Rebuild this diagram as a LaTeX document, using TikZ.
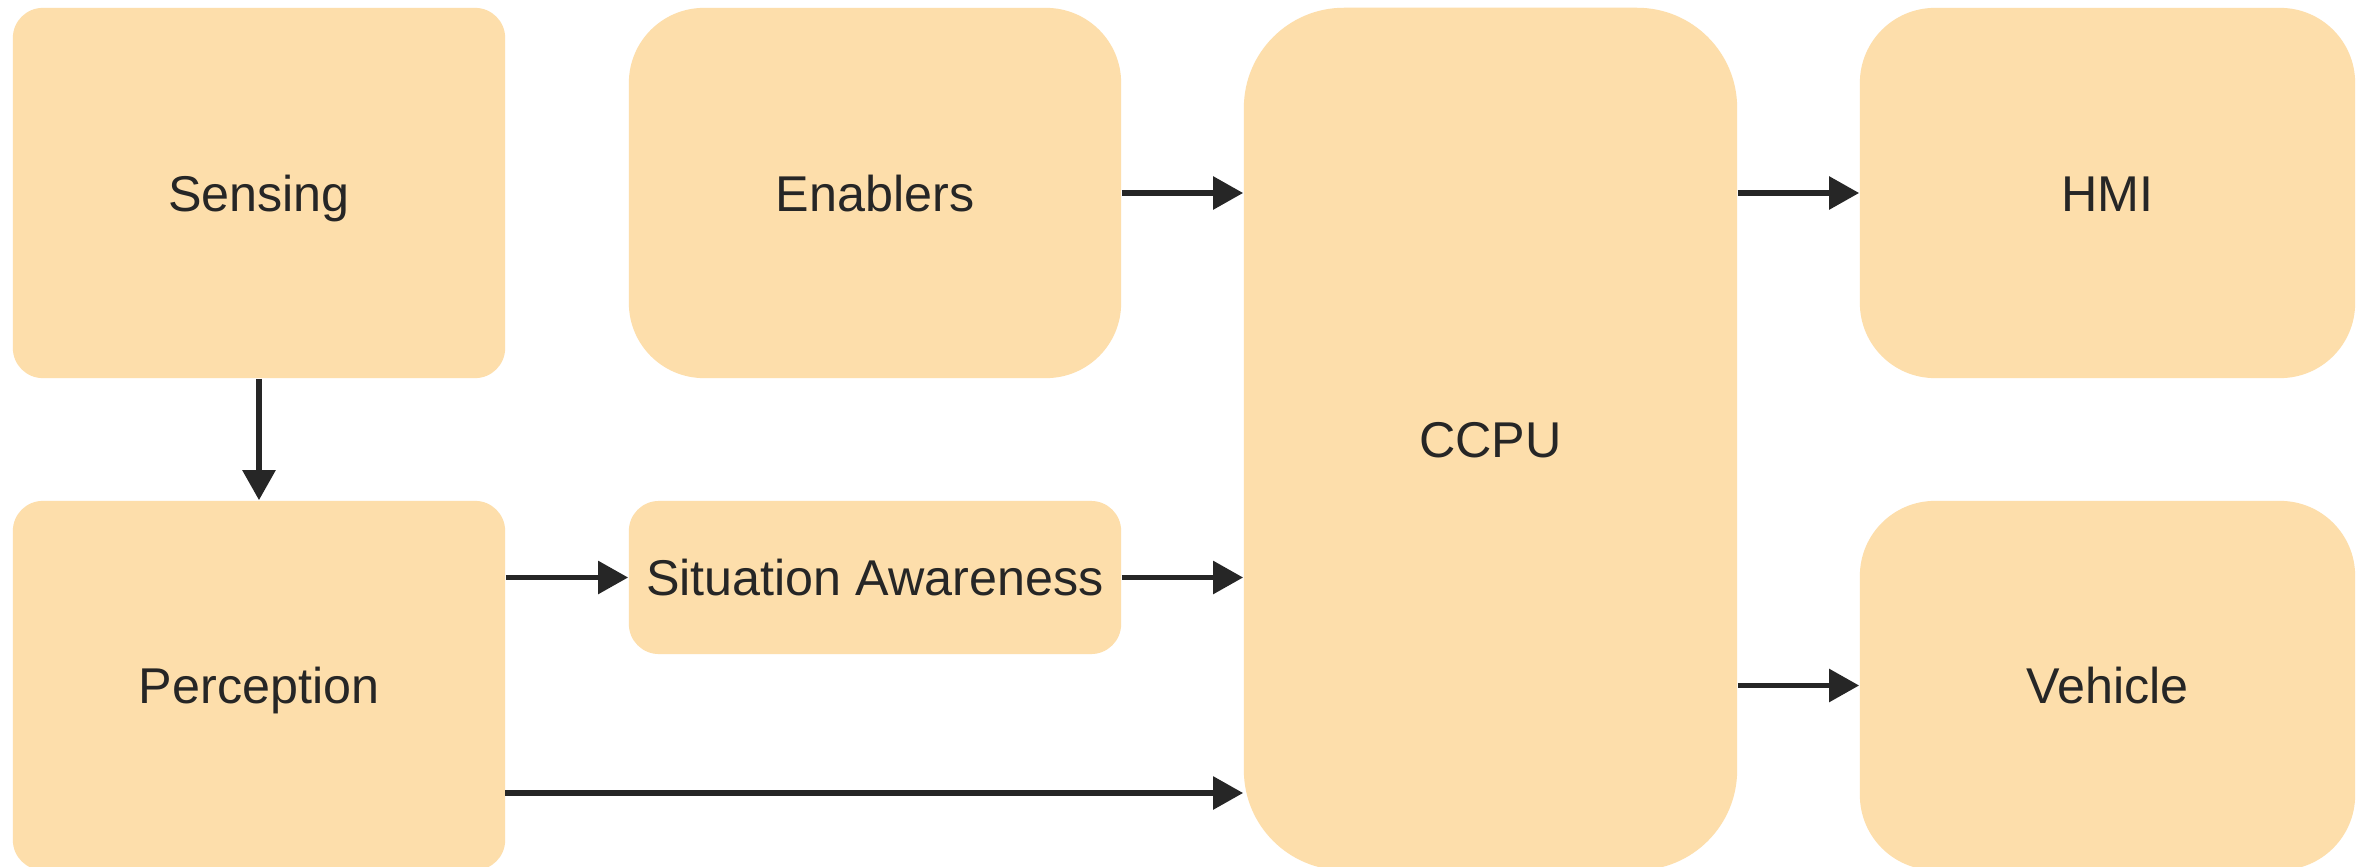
\documentclass[tikz,border=0pt]{standalone}
\usepackage{fontspec}
\setmainfont{Liberation Sans}
\usetikzlibrary{arrows.meta}
\definecolor{boxfill}{RGB}{253,222,171}
\definecolor{ink}{RGB}{38,38,38}
\tikzset{
  blockbox/.style={rectangle, fill=boxfill, draw=none, inner sep=0pt, text=ink,
    text height=0.36cm, text depth=0cm,
    font=\fontsize{14.3}{17}\selectfont},
  smallr/.style={rounded corners=0.3cm},
  bigr/.style={rounded corners=0.75cm},
  hugr/.style={rounded corners=1.0cm},
  flow/.style={draw=ink, line width=1.6pt, -{Triangle[length=0.3cm,width=0.32cm]}}
}
\begin{document}
\begin{tikzpicture}[x=0.01cm, y=-0.01cm]
\useasboundingbox (0,0) rectangle (2357,867);
\clip (0,0) rectangle (2357,867);
\fill[white] (0,0) rectangle (2357,867);
\node[blockbox, smallr, minimum width=4.92cm, minimum height=3.70cm] (sens) at (259,193) {Sensing};
\node[blockbox, smallr, minimum width=4.92cm, minimum height=3.69cm] (perc) at (259,685.5) {Perception};
\node[blockbox, bigr, minimum width=4.92cm, minimum height=3.70cm] (enab) at (875,193) {Enablers};
\node[blockbox, smallr, minimum width=4.92cm, minimum height=1.53cm] (sa) at (875,577.5) {Situation Awareness};
\node[blockbox, hugr, minimum width=4.93cm, minimum height=8.62cm] (ccpu) at (1490.5,439) {CCPU};
\node[blockbox, bigr, minimum width=4.95cm, minimum height=3.70cm] (hmi) at (2107.5,193) {HMI};
\node[blockbox, bigr, minimum width=4.95cm, minimum height=3.69cm] (veh) at (2107.5,685.5) {Vehicle};
\coordinate (pout) at (505,793);
\draw[flow] (sens.south) -- (perc.north);
\draw[flow] (enab.east) -- (enab.east -| ccpu.west);
\draw[flow] (sa.west -| perc.east) -- (sa.west);
\draw[flow] (sa.east) -- (sa.east -| ccpu.west);
\draw[flow] (pout) -- (pout -| ccpu.west);
\draw[flow] (hmi.west -| ccpu.east) -- (hmi.west);
\draw[flow] (veh.west -| ccpu.east) -- (veh.west);
\end{tikzpicture}
\end{document}
